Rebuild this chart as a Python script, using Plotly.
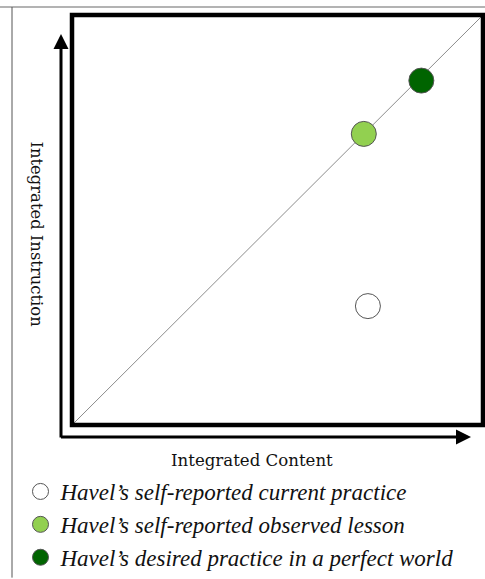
import plotly.graph_objects as go

# Data (scale 0-10 on both axes)
series_names = [
    "Havel\u2019s self-reported current practice",
    "Havel\u2019s self-reported observed lesson",
    "Havel\u2019s desired practice in a perfect world",
]
content_vals = [7.2, 7.1, 8.5]       # Integrated Content (x)
instruction_vals = [2.9, 7.1, 8.4]   # Integrated Instruction (y)
fill_colors = ["#ffffff", "#92d050", "#006400"]
diag_x = [0, 10]
diag_y = [0, 10]
x_title = "Integrated Content"
y_title = "Integrated Instruction"

W, H = 485, 579
L, T, PW, PH = 72, 15, 411, 411

def px(x):  # window x -> paper
    return (x - L) / PW

def py(y):  # window y -> paper
    return (T + PH - y) / PH

fig = go.Figure()
fig.add_trace(go.Scatter(x=diag_x, y=diag_y, mode="lines",
                         line=dict(color="#8c8c8c", width=1),
                         showlegend=False, hoverinfo="skip"))
for name, xv, yv, c in zip(series_names, content_vals, instruction_vals, fill_colors):
    fig.add_trace(go.Scatter(x=[xv], y=[yv], mode="markers", name=name,
                             marker=dict(size=25, color=c,
                                         line=dict(color="#555555", width=1))))

shapes = [
    # thick frame
    dict(type="rect", xref="paper", yref="paper", x0=0, x1=1, y0=0, y1=1,
         line=dict(color="black", width=4.5), layer="above"),
    # outer thin gray border (top and left)
    dict(type="line", xref="paper", yref="paper", x0=px(0), x1=px(W), y0=py(7), y1=py(7),
         line=dict(color="#9a9a9a", width=1.5)),
    dict(type="line", xref="paper", yref="paper", x0=px(12), x1=px(12), y0=py(7), y1=py(H),
         line=dict(color="#555555", width=1)),
]

annotations = [
    # vertical arrow
    dict(xref="paper", yref="paper", x=px(61), y=py(34), ax=0, ay=439 - 34,
         axref="pixel", ayref="pixel", showarrow=True, arrowhead=2, arrowsize=1,
         arrowwidth=3, arrowcolor="black", text=""),
    # horizontal arrow
    dict(xref="paper", yref="paper", x=px(471), y=py(438), ax=59.5 - 471, ay=0,
         axref="pixel", ayref="pixel", showarrow=True, arrowhead=2, arrowsize=1,
         arrowwidth=3, arrowcolor="black", text=""),
    dict(xref="paper", yref="paper", x=px(252), y=py(462), text=x_title,
         showarrow=False, font=dict(family="DejaVu Serif", size=16.6, color="#111111"),
         xanchor="center", yanchor="middle"),
    dict(xref="paper", yref="paper", x=px(37), y=py(235), text=y_title, textangle=90,
         showarrow=False, font=dict(family="DejaVu Serif", size=16.4, color="#111111"),
         xanchor="center", yanchor="middle"),
]

fig.update_layout(
    width=W, height=H,
    margin=dict(l=L, r=W - L - PW, t=T, b=H - T - PH),
    paper_bgcolor="white", plot_bgcolor="white",
    xaxis=dict(range=[0, 10], showgrid=False, zeroline=False, showticklabels=False,
               ticks="", showline=False),
    yaxis=dict(range=[0, 10], showgrid=False, zeroline=False, showticklabels=False,
               ticks="", showline=False),
    shapes=shapes, annotations=annotations,
    showlegend=True,
    legend=dict(x=px(20.5), y=py(H), xanchor="left", yanchor="bottom",
                font=dict(family="Liberation Serif", size=23, color="#111111", style="italic"),
                itemsizing="trace", tracegroupgap=0, bgcolor="rgba(0,0,0,0)"),
)

fig.write_html("out.html", config={"displayModeBar": False},
               post_script="document.body.style.margin='0';document.body.style.overflow='hidden';")
